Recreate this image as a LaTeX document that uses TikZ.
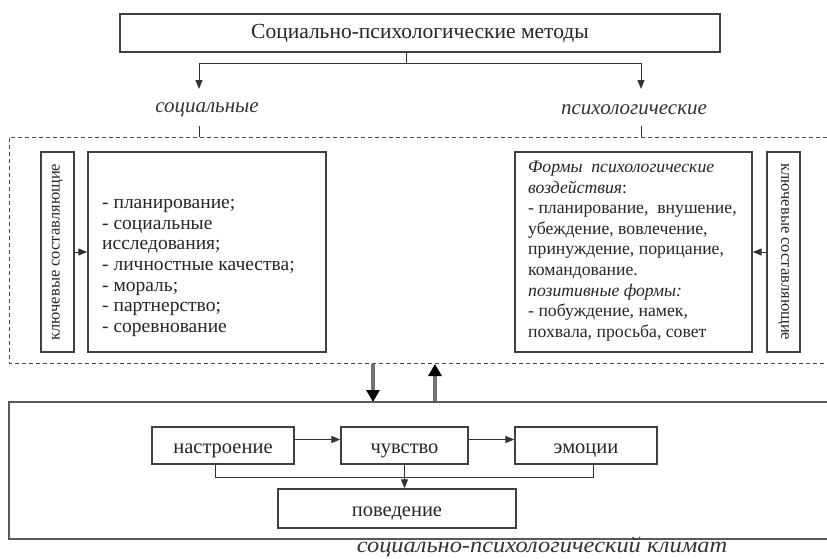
\documentclass[tikz,border=0pt]{standalone}
\usepackage{fontspec}
\setmainfont{Liberation Serif}
\usetikzlibrary{arrows.meta}
\begin{document}
\begin{tikzpicture}[x=1pt,y=-1pt,
  box/.style={draw=black!75,line width=1.3pt,fill=white,inner sep=0pt,text=black!85},
  vbox/.style={box,minimum width=33pt,minimum height=200pt,font=\fontsize{16.5}{18}\selectfont},
  arr/.style={draw=black!80,line width=1pt,-{Triangle[length=9pt,width=7pt]}},
  conn/.style={draw=black!80,line width=1pt},
  fat/.style={draw=black!55,line width=4pt,-{Triangle[length=12pt,width=13pt,color=black]}},
  frame/.style={draw=black!65,line width=1.5pt},
  dframe/.style={draw=black!70,line width=0.9pt,dash pattern=on 4pt off 3pt},
  lbl/.style={font=\fontsize{21}{24}\itshape\selectfont,text=black!80,inner sep=0pt}
]
\useasboundingbox (0,0) rectangle (827,558);

% top box
\node[box,minimum width=600pt,minimum height=38pt,font=\fontsize{21.5}{24}\selectfont] (top) at (420,33) {Социально-психологические методы};
\coordinate (stub) at (406,63);
\coordinate (bl) at (199,63);
\coordinate (br) at (641,63);
\coordinate (al) at (199,89);
\coordinate (ar) at (641,89);
\draw[conn] ([xshift=-14pt]top.south) -- (stub);
\draw[conn] (bl) -- (br);
\draw[arr] (bl) -- (al);
\draw[arr] (br) -- (ar);

\node[lbl] (soc) at (207,110) {социальные};
\node[lbl] (psy) at (634,110) {психологические};
\coordinate (t1) at (199,126);
\coordinate (t1b) at (199,137);
\coordinate (t2) at (641,126);
\coordinate (t2b) at (641,137);
\draw[conn] (t1) -- (t1b);
\draw[conn] (t2) -- (t2b);

% dashed frame
\draw[dframe] (827,137) -- (9,137) -- (9,363) -- (827,363);

% left part
\node[vbox] (kl) at (57.5,252) {\rotatebox{90}{ключевые составляющие}};
\node[box,minimum width=238pt,minimum height=200pt] (ll) at (207,252) {};
\node[anchor=north west,align=left,inner sep=0pt,text=black!85,font=\fontsize{19.5}{20.7}\selectfont] (lt) at (102,199) {- планирование;\\- социальные\\исследования;\\- личностные качества;\\- мораль;\\- партнерство;\\- соревнование};
\draw[arr] (kl.east) -- (ll.west);

% right part
\node[box,minimum width=237pt,minimum height=200pt] (rl) at (633.5,252) {};
\node[anchor=west,align=left,inner sep=0pt,text=black!85,font=\fontsize{17.7}{20.6}\selectfont] (rt) at (528,251) {\textit{Формы\ \ психологические}\\\textit{воздействия}:\\- планирование,\ \ внушение,\\убеждение, вовлечение,\\принуждение, порицание,\\командование.\\\textit{позитивные формы:}\\- побуждение, намек,\\похвала, просьба, совет};
\node[vbox] (kr) at (783.5,252) {\rotatebox{-90}{ключевые составляющие}};
\draw[arr] (kr.west) -- (rl.east);

% fat arrows
\coordinate (d1) at (373,364);
\coordinate (d2) at (373,402);
\coordinate (u1) at (435,402);
\coordinate (u2) at (435,364);
\draw[fat] (d1) -- (d2);
\draw[fat] (u1) -- (u2);

% bottom frame
\draw[frame] (827,402) -- (9,402) -- (9,539) -- (827,539);
\node[font=\fontsize{22}{24}\itshape\selectfont,text=black!80,inner sep=0pt] (clim) at (542,547) {\scalebox{1.11}[1]{социально-психологический климат}};

% inner boxes
\tikzset{ib/.style={box,minimum height=37pt,text height=16pt,text depth=0pt,font=\fontsize{20.5}{22}\selectfont}}
\node[ib,minimum width=142pt] (n1) at (223,445.5) {настроение};
\node[ib,minimum width=127pt] (n2) at (404.5,445.5) {чувство};
\node[ib,minimum width=142pt] (n3) at (586,445.5) {эмоции};
\node[ib,minimum width=238pt,minimum height=39pt] (n4) at (397,508.5) {поведение};
\draw[arr] ([yshift=6pt]n1.east) -- ([yshift=6pt]n2.west);
\draw[arr] ([yshift=6pt]n2.east) -- ([yshift=6pt]n3.west);
\coordinate (hl) at (215,477);
\draw[conn] ([xshift=-8pt]n1.south) -- (hl) -| ([xshift=7pt]n3.south);
\draw[arr] (n2.south) -- (n2.south |- n4.north);
\end{tikzpicture}
\end{document}
